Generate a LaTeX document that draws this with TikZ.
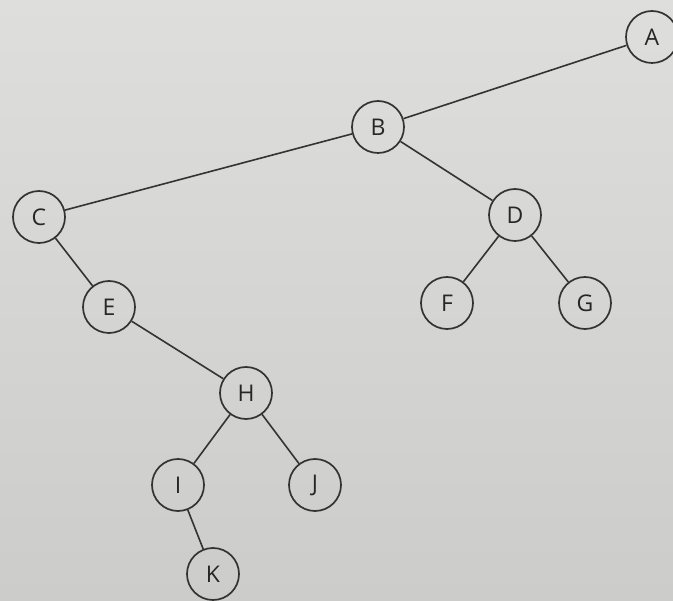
\documentclass[tikz,border=0pt]{standalone}
\usepackage{fontspec}
\setmainfont{Open Sans}
\begin{document}
\begin{tikzpicture}[x=1pt,y=-1pt,
  tnode/.style={circle,draw=black!80,line width=1.7pt,minimum size=52pt,inner sep=0pt,font=\fontsize{23}{25}\selectfont,text=black!85},
  tedge/.style={draw=black!80,line width=1.6pt}]
\shade[top color={rgb,255:red,222;green,222;blue,220},bottom color={rgb,255:red,204;green,204;blue,202}] (0,0) rectangle (673,601);
\useasboundingbox (0,0) rectangle (673,601);
\node[tnode] (A) at (652,37) {A};
\node[tnode] (B) at (378,127) {B};
\node[tnode] (C) at (39,217) {C};
\node[tnode] (D) at (515,215) {D};
\node[tnode] (E) at (109,307) {E};
\node[tnode] (F) at (447,303) {F};
\node[tnode] (G) at (585,303) {G};
\node[tnode] (H) at (246,393) {H};
\node[tnode] (I) at (178,485) {I};
\node[tnode] (J) at (315,485) {J};
\node[tnode] (K) at (213,574) {K};
\draw[tedge] (A) -- (B);
\draw[tedge] (B) -- (C);
\draw[tedge] (B) -- (D);
\draw[tedge] (C) -- (E);
\draw[tedge] (D) -- (F);
\draw[tedge] (D) -- (G);
\draw[tedge] (E) -- (H);
\draw[tedge] (H) -- (I);
\draw[tedge] (H) -- (J);
\draw[tedge] (I) -- (K);
\end{tikzpicture}
\end{document}
